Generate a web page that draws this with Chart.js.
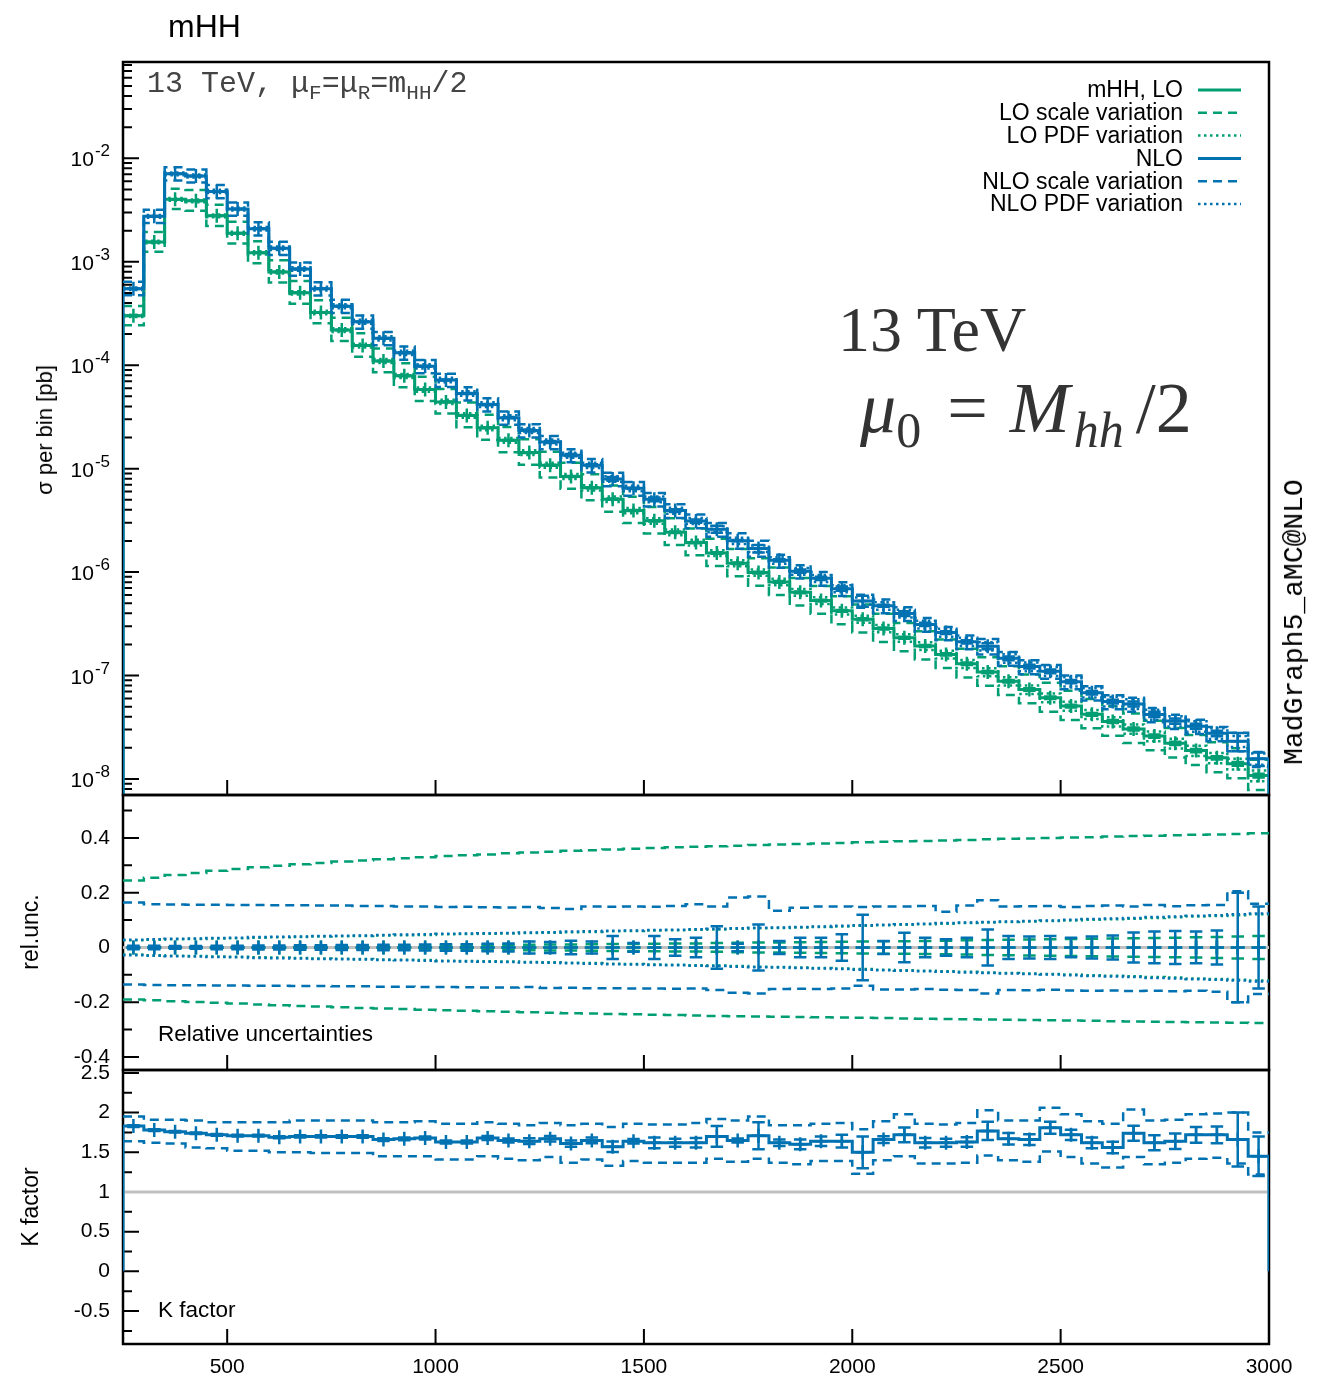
<!DOCTYPE html>
<html>
<head>
<meta charset="utf-8">
<title>mHH</title>
<script src="https://cdn.jsdelivr.net/npm/chart.js@4.4.1/dist/chart.umd.min.js"></script>
<style>
  html, body { margin: 0; padding: 0; background: #fff; }
  #page { position: relative; width: 1327px; height: 1378px; overflow: hidden; font-family: "Liberation Sans", Arial, Helvetica, sans-serif; }
  canvas { position: absolute; left: 0; }
  .txt { position: absolute; white-space: nowrap; line-height: 1; color: #000; }
  .mono { font-family: "Liberation Mono", "DejaVu Sans Mono", monospace; }
  .serif { font-family: "Liberation Serif", "DejaVu Serif", serif; }
  .mono sub { font-size: 21px; vertical-align: -7px; line-height: 0; }
  .serif sub { font-size: 50px; vertical-align: -15px; line-height: 0; }
  .rot { transform: translate(-50%, -50%) rotate(-90deg); }
</style>
</head>
<body>
<div id="page">
  <canvas id="mainCanvas" width="1327" height="805" style="top:0px"></canvas>
  <canvas id="relCanvas" width="1327" height="295" style="top:785px"></canvas>
  <canvas id="kCanvas" width="1327" height="318" style="top:1060px"></canvas>

  <div class="txt" style="left:168px; top:10px; font-size:32px;">mHH</div>
  <div class="txt mono" style="left:147px; top:69px; font-size:30px; color:#444;">13 TeV, μ<sub>F</sub>=μ<sub>R</sub>=m<sub>HH</sub>/2</div>
  <div class="txt serif" style="left:838px; top:298px; font-size:64px; color:#333;">13 TeV</div>
  <div class="txt serif" style="left:860px; top:372px; font-size:72px; color:#333;"><i>μ</i><sub>0</sub><span style="margin:0 22px 0 26px;">=</span><i style="letter-spacing:4px;">M</i><sub><i>hh</i></sub><span style="margin-left:12px;">/2</span></div>
  <div class="txt mono rot" style="left:1295px; top:622px; font-size:28px;">MadGraph5_aMC@NLO</div>
  <div class="txt rot" style="left:45px; top:430px; font-size:22px;">σ per bin [pb]</div>
  <div class="txt rot" style="left:30px; top:932px; font-size:23px;">rel.unc.</div>
  <div class="txt rot" style="left:30px; top:1207px; font-size:23px;">K factor</div>
  <div class="txt" style="left:158px; top:1023px; font-size:22.5px;">Relative uncertainties</div>
  <div class="txt" style="left:158px; top:1299px; font-size:22.5px;">K factor</div>
</div>

<script>
// --- Data ---
const binEdges = [250, 300, 350, 400, 450, 500, 550, 600, 650, 700, 750, 800, 850, 900, 950, 1000,
  1050, 1100, 1150, 1200, 1250, 1300, 1350, 1400, 1450, 1500, 1550, 1600, 1650, 1700, 1750, 1800,
  1850, 1900, 1950, 2000, 2050, 2100, 2150, 2200, 2250, 2300, 2350, 2400, 2450, 2500, 2550, 2600,
  2650, 2700, 2750, 2800, 2850, 2900, 2950, 3000];

const nloXsec = [
  5.50e-4, 2.75e-3, 7.08e-3, 6.76e-3, 4.79e-3, 3.24e-3, 2.09e-3, 1.35e-3, 8.51e-4, 5.50e-4,
  3.72e-4, 2.63e-4, 1.82e-4, 1.32e-4, 9.77e-5, 7.20e-5, 5.33e-5, 4.17e-5, 3.11e-5, 2.34e-5,
  1.81e-5, 1.35e-5, 1.08e-5, 7.96e-6, 6.45e-6, 5.06e-6, 3.93e-6, 3.12e-6, 2.60e-6, 2.01e-6,
  1.69e-6, 1.30e-6, 1.02e-6, 8.71e-7, 6.92e-7, 5.26e-7, 4.73e-7, 3.98e-7, 3.12e-7, 2.60e-7,
  2.12e-7, 1.92e-7, 1.47e-7, 1.22e-7, 1.10e-7, 8.72e-8, 6.83e-8, 5.60e-8, 5.31e-8, 4.21e-8,
  3.63e-8, 3.24e-8, 2.76e-8, 2.32e-8, 1.57e-8];

const loXsec = [
  3.00e-4, 1.55e-3, 4.02e-3, 3.89e-3, 2.78e-3, 1.89e-3, 1.22e-3, 7.98e-4, 5.01e-4, 3.24e-4,
  2.19e-4, 1.55e-4, 1.10e-4, 7.89e-5, 5.82e-5, 4.42e-5, 3.27e-5, 2.48e-5, 1.88e-5, 1.43e-5,
  1.08e-5, 8.41e-6, 6.53e-6, 5.07e-6, 3.94e-6, 3.13e-6, 2.43e-6, 1.93e-6, 1.53e-6, 1.22e-6,
  9.89e-7, 8.04e-7, 6.38e-7, 5.31e-7, 4.22e-7, 3.51e-7, 2.85e-7, 2.32e-7, 1.93e-7, 1.60e-7,
  1.30e-7, 1.08e-7, 8.81e-8, 7.33e-8, 6.10e-8, 5.07e-8, 4.22e-8, 3.59e-8, 3.05e-8, 2.60e-8,
  2.21e-8, 1.88e-8, 1.60e-8, 1.40e-8, 1.08e-8];

// relative uncertainties
const loScaleUp = [
  0.245, 0.255, 0.265, 0.272, 0.280, 0.287, 0.293, 0.299, 0.304, 0.309,
  0.314, 0.318, 0.322, 0.326, 0.330, 0.334, 0.337, 0.340, 0.344, 0.347,
  0.350, 0.353, 0.355, 0.358, 0.361, 0.363, 0.366, 0.368, 0.370, 0.372,
  0.374, 0.376, 0.378, 0.380, 0.382, 0.384, 0.386, 0.388, 0.389, 0.391,
  0.393, 0.395, 0.397, 0.398, 0.400, 0.402, 0.403, 0.405, 0.407, 0.408,
  0.410, 0.412, 0.413, 0.415, 0.417];
const loScaleDown = [
  -0.190, -0.193, -0.196, -0.199, -0.202, -0.205, -0.208, -0.211, -0.214, -0.216,
  -0.218, -0.221, -0.223, -0.225, -0.227, -0.229, -0.231, -0.233, -0.235, -0.237,
  -0.238, -0.240, -0.241, -0.243, -0.244, -0.246, -0.247, -0.248, -0.250, -0.251,
  -0.252, -0.253, -0.254, -0.255, -0.256, -0.257, -0.258, -0.259, -0.260, -0.261,
  -0.262, -0.263, -0.264, -0.265, -0.266, -0.267, -0.268, -0.269, -0.270, -0.271,
  -0.272, -0.273, -0.274, -0.275, -0.276];
const nloScaleUp = [
  0.164, 0.158, 0.157, 0.156, 0.156, 0.155, 0.155, 0.154, 0.154, 0.153,
  0.153, 0.152, 0.152, 0.150, 0.150, 0.148, 0.149, 0.147, 0.146, 0.148,
  0.144, 0.141, 0.150, 0.149, 0.150, 0.149, 0.152, 0.158, 0.150, 0.183,
  0.186, 0.134, 0.145, 0.150, 0.150, 0.148, 0.150, 0.150, 0.152, 0.131,
  0.153, 0.173, 0.150, 0.151, 0.152, 0.148, 0.152, 0.153, 0.150, 0.155,
  0.151, 0.154, 0.155, 0.205, 0.160];
const nloScaleDown = [
  -0.135, -0.137, -0.138, -0.138, -0.139, -0.139, -0.140, -0.140, -0.141, -0.141,
  -0.142, -0.142, -0.143, -0.143, -0.144, -0.144, -0.145, -0.146, -0.146, -0.144,
  -0.148, -0.147, -0.149, -0.149, -0.150, -0.150, -0.151, -0.150, -0.155, -0.165,
  -0.168, -0.152, -0.151, -0.152, -0.150, -0.140, -0.153, -0.153, -0.152, -0.154,
  -0.155, -0.168, -0.155, -0.156, -0.154, -0.157, -0.158, -0.157, -0.159, -0.158,
  -0.160, -0.158, -0.162, -0.200, -0.170];
const loPdf = [
  0.026, 0.028, 0.030, 0.031, 0.033, 0.034, 0.036, 0.037, 0.038, 0.040,
  0.041, 0.042, 0.044, 0.045, 0.046, 0.048, 0.049, 0.050, 0.051, 0.053,
  0.054, 0.056, 0.057, 0.059, 0.060, 0.062, 0.063, 0.065, 0.066, 0.068,
  0.070, 0.071, 0.073, 0.075, 0.077, 0.079, 0.081, 0.083, 0.085, 0.087,
  0.089, 0.091, 0.093, 0.095, 0.097, 0.099, 0.101, 0.103, 0.105, 0.108,
  0.110, 0.113, 0.115, 0.118, 0.121];
const nloPdf = [
  0.028, 0.030, 0.032, 0.033, 0.035, 0.036, 0.038, 0.039, 0.040, 0.042,
  0.043, 0.044, 0.046, 0.047, 0.048, 0.050, 0.051, 0.052, 0.053, 0.055,
  0.056, 0.058, 0.059, 0.061, 0.062, 0.064, 0.065, 0.067, 0.068, 0.070,
  0.072, 0.073, 0.075, 0.077, 0.079, 0.081, 0.083, 0.085, 0.087, 0.089,
  0.091, 0.093, 0.095, 0.097, 0.099, 0.101, 0.104, 0.106, 0.108, 0.111,
  0.113, 0.116, 0.118, 0.121, 0.124];
const loStat = [
  0.003, 0.003, 0.003, 0.003, 0.003, 0.004, 0.004, 0.004, 0.005, 0.005,
  0.005, 0.006, 0.006, 0.007, 0.007, 0.008, 0.008, 0.009, 0.009, 0.010,
  0.011, 0.011, 0.012, 0.013, 0.013, 0.014, 0.015, 0.015, 0.016, 0.017,
  0.018, 0.018, 0.019, 0.020, 0.021, 0.022, 0.023, 0.023, 0.024, 0.025,
  0.026, 0.027, 0.028, 0.029, 0.030, 0.031, 0.032, 0.033, 0.034, 0.035,
  0.036, 0.037, 0.038, 0.040, 0.042];
const nloStat = [
  0.006, 0.006, 0.005, 0.005, 0.006, 0.006, 0.007, 0.007, 0.008, 0.008,
  0.009, 0.009, 0.010, 0.010, 0.011, 0.012, 0.012, 0.014, 0.015, 0.022,
  0.020, 0.025, 0.022, 0.042, 0.016, 0.042, 0.030, 0.036, 0.078, 0.014,
  0.084, 0.024, 0.036, 0.036, 0.048, 0.120, 0.024, 0.054, 0.036, 0.030,
  0.036, 0.066, 0.042, 0.040, 0.042, 0.036, 0.040, 0.044, 0.055, 0.058,
  0.060, 0.058, 0.062, 0.200, 0.150];

// K factor panel
const kFactor = [
  1.83, 1.78, 1.76, 1.74, 1.72, 1.71, 1.71, 1.69, 1.70, 1.70,
  1.70, 1.70, 1.66, 1.67, 1.68, 1.63, 1.63, 1.68, 1.65, 1.64,
  1.67, 1.61, 1.65, 1.57, 1.64, 1.62, 1.62, 1.62, 1.70, 1.65,
  1.71, 1.62, 1.60, 1.64, 1.64, 1.50, 1.66, 1.72, 1.62, 1.62,
  1.63, 1.77, 1.67, 1.66, 1.81, 1.72, 1.62, 1.56, 1.74, 1.62,
  1.64, 1.72, 1.72, 1.66, 1.45];
const kFactorErr = [
  0.012, 0.011, 0.010, 0.010, 0.011, 0.011, 0.012, 0.012, 0.014, 0.014,
  0.015, 0.016, 0.017, 0.017, 0.019, 0.020, 0.020, 0.024, 0.025, 0.036,
  0.034, 0.040, 0.037, 0.066, 0.028, 0.068, 0.050, 0.059, 0.130, 0.025,
  0.170, 0.040, 0.060, 0.060, 0.080, 0.200, 0.042, 0.092, 0.060, 0.050,
  0.060, 0.115, 0.072, 0.068, 0.075, 0.065, 0.068, 0.072, 0.095, 0.095,
  0.098, 0.100, 0.105, 0.340, 0.250];
const kScaleUp = [
  1.95, 1.91, 1.91, 1.90, 1.88, 1.88, 1.88, 1.88, 1.90, 1.90,
  1.90, 1.90, 1.88, 1.88, 1.89, 1.86, 1.86, 1.88, 1.86, 1.84,
  1.87, 1.84, 1.86, 1.82, 1.86, 1.85, 1.85, 1.87, 1.92, 1.90,
  1.95, 1.84, 1.84, 1.86, 1.87, 1.79, 1.89, 1.98, 1.86, 1.85,
  1.87, 2.03, 1.90, 1.90, 2.06, 1.98, 1.89, 1.86, 2.04, 1.90,
  1.91, 1.98, 1.99, 2.00, 1.75];
const kScaleDown = [
  1.64, 1.62, 1.61, 1.56, 1.55, 1.52, 1.52, 1.50, 1.50, 1.49,
  1.49, 1.49, 1.45, 1.45, 1.45, 1.41, 1.41, 1.45, 1.42, 1.40,
  1.44, 1.37, 1.41, 1.33, 1.39, 1.37, 1.37, 1.37, 1.42, 1.38,
  1.42, 1.37, 1.35, 1.39, 1.39, 1.23, 1.40, 1.45, 1.36, 1.36,
  1.37, 1.46, 1.40, 1.38, 1.51, 1.44, 1.36, 1.31, 1.44, 1.35,
  1.37, 1.42, 1.43, 1.36, 1.22];

// --- Axes / ticks ---
const xTickValues = [500, 1000, 1500, 2000, 2500, 3000];
const xTickLabels = ['500', '1000', '1500', '2000', '2500', '3000'];
const mainTickValues = [1e-8, 1e-7, 1e-6, 1e-5, 1e-4, 1e-3, 1e-2];
const mainTickExponents = ['-8', '-7', '-6', '-5', '-4', '-3', '-2'];
const relTickValues = [-0.4, -0.2, 0, 0.2, 0.4];
const relTickLabels = ['-0.4', '-0.2', '0', '0.2', '0.4'];
const relMinorTicks = [-0.3, -0.1, 0.1, 0.3, 0.5];
const kTickValues = [-0.5, 0, 0.5, 1, 1.5, 2, 2.5];
const kTickLabels = ['-0.5', '0', '0.5', '1', '1.5', '2', '2.5'];
const kMinorTicks = [-0.75, -0.25, 0.25, 0.75, 1.25, 1.75, 2.25];

const legendLabels = ['mHH, LO', 'LO scale variation', 'LO PDF variation', 'NLO', 'NLO scale variation', 'NLO PDF variation'];

// --- Styles ---
const GREEN = '#009e73';
const BLUE = '#0072b2';
const GREY = '#c0c0c0';
const DASH = [9, 6];
const DOT = [2.5, 3.5];
const SANS = '"Liberation Sans", Arial, sans-serif';

const logMinorTicks = [];
for (let d = -9; d <= -2; d++) for (let m = 2; m <= 9; m++) logMinorTicks.push(m * Math.pow(10, d));

// --- Helpers ---
const binCenters = binEdges.slice(0, -1).map((e, i) => (e + binEdges[i + 1]) / 2);

function stepPoints(values, floor) {
  const pts = [];
  if (floor !== undefined) pts.push({ x: binEdges[0], y: floor });
  values.forEach((v, i) => {
    pts.push({ x: binEdges[i], y: v });
    pts.push({ x: binEdges[i + 1], y: v });
  });
  if (floor !== undefined) pts.push({ x: binEdges[binEdges.length - 1], y: floor });
  return pts;
}

function errorBarPoints(lows, highs) {
  const cap = 15;
  const pts = [];
  binCenters.forEach((c, i) => {
    pts.push({ x: c, y: lows[i] }, { x: c, y: highs[i] }, { x: c, y: null });
    pts.push({ x: c - cap, y: highs[i] }, { x: c + cap, y: highs[i] }, { x: c, y: null });
    pts.push({ x: c - cap, y: lows[i] }, { x: c + cap, y: lows[i] }, { x: c, y: null });
  });
  return pts;
}

function lineSet(data, color, width, dash) {
  return {
    data, showLine: true, borderColor: color, borderWidth: width, borderDash: dash || [],
    pointRadius: 0, fill: false, spanGaps: false, borderCapStyle: 'butt', borderJoinStyle: 'miter'
  };
}

function markerSet(values, color) {
  return {
    data: binCenters.map((c, i) => ({ x: c, y: values[i] })),
    showLine: false, pointStyle: 'cross', pointRadius: 7, pointBorderWidth: 2.5,
    pointBorderColor: color, pointBackgroundColor: color, borderColor: color
  };
}

function baseOptions(yScale, padding) {
  return {
    responsive: false,
    animation: false,
    events: [],
    layout: { padding },
    plugins: { legend: { display: false }, tooltip: { enabled: false }, title: { display: false } },
    scales: {
      x: { type: 'linear', min: 250, max: 3000, display: false },
      y: Object.assign({ display: false }, yScale)
    }
  };
}

// frame, inward ticks and tick labels, gnuplot style
function framePlugin(opts) {
  return {
    id: 'gnuFrame',
    beforeDatasetsDraw(chart) {
      const { ctx, chartArea: a } = chart;
      const xs = chart.scales.x, ys = chart.scales.y;
      ctx.save();
      ctx.strokeStyle = '#000';
      ctx.lineWidth = 2;
      ctx.beginPath();
      xTickValues.forEach(v => {
        const px = xs.getPixelForValue(v);
        ctx.moveTo(px, a.bottom);
        ctx.lineTo(px, a.bottom - 15);
      });
      opts.major.forEach(v => {
        const py = ys.getPixelForValue(v);
        if (py < a.top - 1 || py > a.bottom + 1) return;
        ctx.moveTo(a.left, py);
        ctx.lineTo(a.left + 16, py);
      });
      opts.minor.forEach(v => {
        const py = ys.getPixelForValue(v);
        if (py < a.top + 1 || py > a.bottom - 1) return;
        ctx.moveTo(a.left, py);
        ctx.lineTo(a.left + 9, py);
      });
      ctx.stroke();
      ctx.lineWidth = 2.5;
      ctx.strokeRect(a.left, a.top, a.right - a.left, a.bottom - a.top);

      ctx.fillStyle = '#000';
      if (opts.labels) {
        ctx.font = '21px ' + SANS;
        ctx.textAlign = 'right';
        ctx.textBaseline = 'middle';
        opts.major.forEach((v, i) => {
          ctx.fillText(opts.labels[i], 110, ys.getPixelForValue(v));
        });
      }
      if (opts.exponents) {
        ctx.textBaseline = 'alphabetic';
        opts.major.forEach((v, i) => {
          const py = ys.getPixelForValue(v);
          ctx.font = '17px ' + SANS;
          const ew = ctx.measureText(opts.exponents[i]).width;
          ctx.textAlign = 'left';
          ctx.fillText(opts.exponents[i], 110 - ew, py - 2);
          ctx.font = '21px ' + SANS;
          ctx.textAlign = 'right';
          ctx.fillText('10', 109 - ew, py + 8);
        });
      }
      if (opts.xLabels) {
        ctx.font = '21px ' + SANS;
        ctx.textAlign = 'center';
        ctx.textBaseline = 'middle';
        xTickValues.forEach((v, i) => {
          ctx.fillText(xTickLabels[i], xs.getPixelForValue(v), a.bottom + 23);
        });
      }
      ctx.restore();
    }
  };
}

const legendPlugin = {
  id: 'gnuLegend',
  afterDatasetsDraw(chart) {
    const ctx = chart.ctx;
    const styles = [
      [GREEN, []], [GREEN, DASH], [GREEN, DOT],
      [BLUE, []], [BLUE, DASH], [BLUE, DOT]
    ];
    ctx.save();
    ctx.font = '23px ' + SANS;
    ctx.textAlign = 'right';
    ctx.textBaseline = 'middle';
    legendLabels.forEach((label, i) => {
      const y = 90 + i * 22.8;
      ctx.fillStyle = '#000';
      ctx.fillText(label, 1183, y + 1);
      ctx.strokeStyle = styles[i][0];
      ctx.lineWidth = styles[i][1].length ? 2.5 : 3;
      ctx.setLineDash(styles[i][1]);
      ctx.beginPath();
      ctx.moveTo(1198, y);
      ctx.lineTo(1241, y);
      ctx.stroke();
    });
    ctx.restore();
  }
};

// --- Top panel: cross sections ---
const FLOOR = 1e-12;
const mainLayers = [
  lineSet(stepPoints(loXsec, FLOOR), GREEN, 3),
  lineSet(stepPoints(loXsec.map((v, i) => v * (1 + loScaleUp[i]))), GREEN, 2.5, DASH),
  lineSet(stepPoints(loXsec.map((v, i) => v * (1 + loScaleDown[i]))), GREEN, 2.5, DASH),
  lineSet(stepPoints(loXsec.map((v, i) => v * (1 + loPdf[i]))), GREEN, 2.5, DOT),
  lineSet(stepPoints(loXsec.map((v, i) => v * (1 - loPdf[i]))), GREEN, 2.5, DOT),
  lineSet(errorBarPoints(loXsec.map((v, i) => v * (1 - loStat[i])), loXsec.map((v, i) => v * (1 + loStat[i]))), GREEN, 2.5),
  markerSet(loXsec, GREEN),
  lineSet(stepPoints(nloXsec, FLOOR), BLUE, 3),
  lineSet(stepPoints(nloXsec.map((v, i) => v * (1 + nloScaleUp[i]))), BLUE, 2.5, DASH),
  lineSet(stepPoints(nloXsec.map((v, i) => v * (1 + nloScaleDown[i]))), BLUE, 2.5, DASH),
  lineSet(stepPoints(nloXsec.map((v, i) => v * (1 + nloPdf[i]))), BLUE, 2.5, DOT),
  lineSet(stepPoints(nloXsec.map((v, i) => v * (1 - nloPdf[i]))), BLUE, 2.5, DOT),
  lineSet(errorBarPoints(nloXsec.map((v, i) => v * (1 - nloStat[i])), nloXsec.map((v, i) => v * (1 + nloStat[i]))), BLUE, 2.5),
  markerSet(nloXsec, BLUE)
];

new Chart(document.getElementById('mainCanvas'), {
  type: 'scatter',
  data: { datasets: mainLayers.reverse() },
  options: baseOptions(
    { type: 'logarithmic', min: 7.17e-9, max: 0.0854 },
    { top: 62, bottom: 10, left: 123, right: 58 }
  ),
  plugins: [framePlugin({ major: mainTickValues, minor: logMinorTicks, exponents: mainTickExponents }), legendPlugin]
});

// --- Middle panel: relative uncertainties ---
const zeros = binCenters.map(() => 0);
const relLayers = [
  lineSet([{ x: 250, y: 0 }, { x: 3000, y: 0 }], GREY, 3),
  lineSet(stepPoints(loScaleUp), GREEN, 2.5, DASH),
  lineSet(stepPoints(loScaleDown), GREEN, 2.5, DASH),
  lineSet(stepPoints(loPdf), GREEN, 2.5, DOT),
  lineSet(stepPoints(loPdf.map(v => -v)), GREEN, 2.5, DOT),
  lineSet(errorBarPoints(loStat.map(v => -v), loStat), GREEN, 2.5),
  markerSet(zeros, GREEN),
  lineSet(stepPoints(nloScaleUp), BLUE, 2.5, DASH),
  lineSet(stepPoints(nloScaleDown), BLUE, 2.5, DASH),
  lineSet(stepPoints(nloPdf), BLUE, 2.5, DOT),
  lineSet(stepPoints(nloPdf.map(v => -v)), BLUE, 2.5, DOT),
  lineSet(errorBarPoints(nloStat.map(v => -v), nloStat), BLUE, 2.5),
  markerSet(zeros, BLUE)
];

new Chart(document.getElementById('relCanvas'), {
  type: 'scatter',
  data: { datasets: relLayers.reverse() },
  options: baseOptions(
    { type: 'linear', min: -0.4475, max: 0.557 },
    { top: 10, bottom: 10, left: 123, right: 58 }
  ),
  plugins: [framePlugin({ major: relTickValues, minor: relMinorTicks, labels: relTickLabels })]
});

// --- Bottom panel: K factor ---
const kLayers = [
  lineSet([{ x: 250, y: 1 }, { x: 3000, y: 1 }], GREY, 3),
  lineSet(stepPoints(kScaleUp), BLUE, 2.5, DASH),
  lineSet(stepPoints(kScaleDown), BLUE, 2.5, DASH),
  lineSet(stepPoints(kFactor, 0), BLUE, 3),
  lineSet(errorBarPoints(kFactor.map((v, i) => v - kFactorErr[i]), kFactor.map((v, i) => v + kFactorErr[i])), BLUE, 2.5),
  markerSet(kFactor, BLUE)
];

new Chart(document.getElementById('kCanvas'), {
  type: 'scatter',
  data: { datasets: kLayers.reverse() },
  options: baseOptions(
    { type: 'linear', min: -0.915, max: 2.537 },
    { top: 10, bottom: 34, left: 123, right: 58 }
  ),
  plugins: [framePlugin({ major: kTickValues, minor: kMinorTicks, labels: kTickLabels, xLabels: true })]
});
</script>
</body>
</html>
